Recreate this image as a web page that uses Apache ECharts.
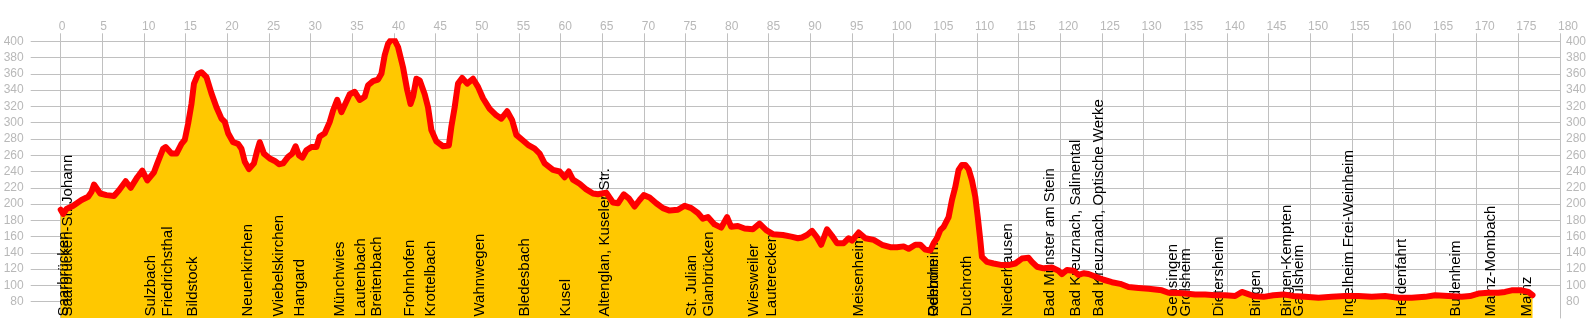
<!DOCTYPE html>
<html>
<head>
<meta charset="utf-8">
<title>Höhenprofil Saarbrücken – Mainz</title>
<script src="https://cdn.jsdelivr.net/npm/echarts@6/dist/echarts.min.js"></script>
<style>
  html, body { margin: 0; padding: 0; background: #ffffff; }
  #chart { width: 1590px; height: 332px; }
</style>
</head>
<body>
<div id="chart"></div>
<script>
// Distance along the line (km) and elevation (m) of the profile
const profileKm = [
  0, 0.3, 0.7, 1.5, 2.5, 3.3, 3.7, 4.0, 4.75, 5.5, 6.4, 7.0, 7.8, 8.4, 9.2, 9.8, 10.4, 11.2, 11.6,
  12.3, 12.6, 13.3, 13.9, 14.5, 14.9, 15.3, 15.7, 16.0, 16.5, 16.9, 17.5, 18.1, 18.7, 19.3, 19.7,
  20.1, 20.7, 21.3, 21.7, 22.1, 22.6, 23.2, 23.6, 23.9, 24.4, 25.1, 25.7, 26.2, 26.7, 27.3, 27.8,
  28.2, 28.6, 29.0, 29.5, 30.1, 30.7, 31.1, 31.7, 32.3, 32.7, 33.2, 33.7, 34.3, 34.7, 35.3, 35.9,
  36.5, 36.9, 37.5, 38.1, 38.5, 38.9, 39.3, 39.9, 40.5, 41.1, 41.6, 42.0, 42.3, 42.7, 43.1, 43.7,
  44.1, 44.5, 45.1, 45.9, 46.6, 46.9, 47.3, 47.7, 48.2, 48.8, 49.5, 50.1, 50.7, 51.5, 52.3, 52.9,
  53.6, 54.2, 54.7, 55.5, 56.2, 56.9, 57.5, 58.1, 59.1, 59.9, 60.5, 61.0, 61.5, 62.3, 63.1, 63.9,
  64.5, 65.5, 66.3, 66.9, 67.6, 68.2, 68.9, 69.5, 70.0, 70.7, 71.5, 72.3, 73.1, 74.1, 74.9, 75.7,
  76.5, 77.1, 77.7, 78.5, 79.3, 80.0, 80.5, 81.3, 82.1, 83.1, 83.9, 84.7, 85.5, 86.7, 87.7, 88.5,
  89.0, 89.6, 90.2, 90.8, 91.3, 92.0, 92.6, 93.2, 94.0, 94.6, 95.0, 95.8, 96.6, 97.6, 98.6, 99.6,
  100.4, 101.2, 101.8, 102.6, 103.2, 103.8, 104.4, 104.8, 105.2, 105.6, 106.0, 106.6, 107.0, 107.4,
  107.8, 108.2, 108.6, 109.0, 109.4, 109.8, 110.1, 110.4, 110.6, 111.2, 112.0, 113.0, 113.8, 114.6,
  115.4, 116.2, 116.6, 117.2, 118.0, 119.0, 119.8, 120.2, 120.8, 121.6, 122.2, 122.8, 123.4, 124.2,
  125.2, 126.2, 127.2, 128.2, 129.4, 130.6, 131.4, 132.2, 133.0, 133.8, 135.0, 136.2, 137.4, 138.6,
  139.8, 141.0, 141.8, 142.4, 143.2, 144.4, 145.6, 146.8, 148.0, 149.4, 151.0, 152.6, 154.2, 155.8,
  157.4, 159.0, 160.6, 162.2, 163.8, 165.0, 166.6, 168.2, 169.2, 170.2, 171.4, 172.6, 173.4, 174.2,
  175.4, 176.2, 176.7
];
const profileElevation = [
  193, 188, 194, 198, 205, 209, 215, 224, 213, 211, 210, 217, 228, 220, 233, 241, 229, 239, 250,
  268, 270, 262, 262, 274, 279, 299, 323, 348, 360, 362, 356, 336, 319, 305, 301,
  287, 276, 274, 268, 252, 243, 250, 266, 276, 262, 256, 253, 249, 250, 258, 262,
  271, 260, 257, 266, 270, 270, 283, 287, 301, 315, 328, 313, 326, 335, 338, 328,
  332, 346, 351, 353, 360, 383, 397, 405, 393, 368, 340, 323, 332, 354, 352, 335,
  319, 291, 277, 271, 272, 295, 319, 348, 355, 348, 354, 344, 330, 317, 309, 305,
  314, 303, 285, 278, 272, 268, 262, 250, 242, 240, 233, 240, 230, 225, 218, 213,
  212, 214, 202, 201, 212, 207, 197, 205, 211, 208, 201, 195, 192, 193, 198, 195,
  189, 182, 184, 175, 171, 184, 172, 173, 170, 169, 176, 168, 163, 162, 160, 158,
  159, 162, 167, 159, 150, 169, 161, 152, 152, 158, 155, 165, 158, 156, 150, 147,
  147, 148, 145, 150, 150, 144, 143, 152, 158, 168, 172, 184, 205, 221,
  242, 248, 248, 243, 229, 209, 184, 156, 135, 129, 127, 125, 125, 127,
  133, 134, 129, 123, 121, 122, 118, 114, 119, 118, 113, 115, 114, 111,
  107, 104, 102, 98, 97, 96, 95, 94, 91, 91, 90, 89, 89, 88,
  88, 87, 92, 90, 87, 86, 88, 89, 87, 86, 85, 86, 87, 87,
  86, 87, 85, 85, 86, 88, 87, 86, 87, 90, 91, 91, 92, 94,
  94, 92, 88
];

// Stations along the route
const stationNames = [
  'Saarbrücken', 'Saarbrücken-St. Johann', 'Sulzbach', 'Friedrichsthal', 'Bildstock',
  'Neuenkirchen', 'Wiebelskirchen', 'Hangard', 'Münchwies', 'Lautenbach', 'Breitenbach',
  'Frohnhofen', 'Krottelbach', 'Wahnwegen', 'Bledesbach', 'Kusel', 'Altenglan, Kuseler Str.',
  'St. Julian', 'Glanbrücken', 'Wiesweiler', 'Lauterecken', 'Meisenheim', 'Rehborn', 'Odernheim',
  'Duchroth', 'Niederhausen', 'Bad Münster am Stein', 'Bad Kreuznach, Salinental',
  'Bad Kreuznach, Optische Werke', 'Gensingen', 'Grolsheim', 'Dietersheim', 'Bingen',
  'Bingen-Kempten', 'Gaulsheim', 'Ingelheim Frei-Weinheim', 'Heidenfahrt', 'Budenheim',
  'Mainz-Mombach', 'Mainz'
];
const stationKm = [
  0, 0.5, 10.4, 12.5, 15.5,
  22.1, 25.8, 28.4, 33.1, 35.7, 37.6,
  41.5, 44.1, 49.9, 55.3, 60.3, 64.9,
  75.4, 77.5, 82.8, 85.0, 95.5, 104.4, 104.5,
  108.4, 113.3, 118.4, 121.5,
  124.3, 133.2, 134.7, 138.7, 143.1,
  146.8, 148.3, 154.3, 160.7, 167.1,
  171.3, 175.7
];

// Axis ticks
const xTicks = [];
for (let k = 0; k <= 180; k += 5) xTicks.push(k);
const yTicks = [];
for (let h = 80; h <= 400; h += 20) yTicks.push(h);

const Y_MIN = 60;
const Y_MAX = 400;
const GRID_COLOR = '#c0c0c0';
const TICK_TEXT = '#b8b8b8';
const LABEL_FONT = '15px "Liberation Sans", Arial, sans-serif';
const LABEL_SHIFT_X = -4.4;
const LABEL_SHIFT_Y = -1.5;

const profile = profileKm.map((km, i) => [km, profileElevation[i]]);

const chart = echarts.init(document.getElementById('chart'), null, { renderer: 'canvas' });

chart.setOption({
  animation: false,
  backgroundColor: '#ffffff',
  grid: { left: 60.7, right: 30, top: 41.3, bottom: 14, containLabel: false },
  xAxis: {
    type: 'value',
    position: 'top',
    min: 0,
    max: 180,
    interval: 5,
    axisLine: { show: false },
    axisTick: {
      show: true, length: 8, inside: false,
      lineStyle: { color: GRID_COLOR, width: 1 }
    },
    axisLabel: {
      customValues: xTicks,
      color: TICK_TEXT,
      fontSize: 12,
      fontFamily: '"Liberation Sans", Arial, sans-serif',
      align: 'left',
      padding: [0, 0, 0, -2],
      margin: 9
    },
    splitLine: { show: true, lineStyle: { color: GRID_COLOR, width: 1 } }
  },
  yAxis: [
    {
      type: 'value',
      position: 'left',
      min: Y_MIN,
      max: Y_MAX,
      interval: 20,
      axisLine: { show: false },
      axisTick: {
        show: true, length: 30, inside: false,
        customValues: yTicks,
        lineStyle: { color: GRID_COLOR, width: 1 }
      },
      axisLabel: {
        customValues: yTicks,
        color: TICK_TEXT,
        fontSize: 12,
        fontFamily: '"Liberation Sans", Arial, sans-serif',
        margin: 37
      },
      splitLine: {
        show: true, showMinLine: false,
        lineStyle: { color: GRID_COLOR, width: 1 }
      }
    },
    {
      type: 'value',
      position: 'right',
      min: Y_MIN,
      max: Y_MAX,
      interval: 20,
      axisLine: { show: true, lineStyle: { color: GRID_COLOR, width: 1 } },
      axisTick: { show: false },
      axisLabel: {
        customValues: yTicks,
        color: TICK_TEXT,
        fontSize: 12,
        fontFamily: '"Liberation Sans", Arial, sans-serif',
        margin: 6
      },
      splitLine: { show: false }
    }
  ],
  series: [
    {
      // yellow fill under the profile
      name: 'fill',
      type: 'line',
      z: 2,
      silent: true,
      data: profile,
      showSymbol: false,
      symbol: 'none',
      lineStyle: { width: 0, opacity: 0 },
      areaStyle: { color: '#ffc800', opacity: 1, origin: 'start' }
    },
    {
      // station names, reading bottom to top
      name: 'stations',
      type: 'custom',
      z: 3,
      silent: true,
      data: stationKm.map((km, i) => [km, Y_MIN, i]),
      encode: { x: 0, y: 1 },
      renderItem: function (params, api) {
        const p = api.coord([api.value(0), api.value(1)]);
        return {
          type: 'text',
          x: p[0] + LABEL_SHIFT_X,
          y: p[1] + LABEL_SHIFT_Y,
          rotation: Math.PI / 2,
          style: {
            text: stationNames[api.value(2)],
            fill: '#000000',
            font: LABEL_FONT,
            align: 'left',
            verticalAlign: 'top'
          }
        };
      }
    },
    {
      // red profile line
      name: 'profile',
      type: 'line',
      z: 4,
      silent: true,
      data: profile,
      showSymbol: false,
      symbol: 'none',
      lineStyle: { color: '#ff0000', width: 6, join: 'round', cap: 'round' }
    }
  ]
});
</script>
</body>
</html>
